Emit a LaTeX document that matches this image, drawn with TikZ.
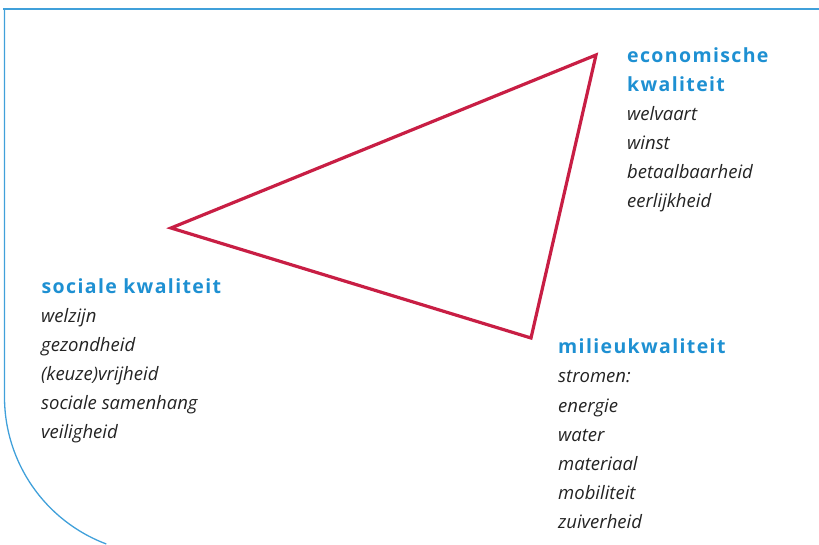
\documentclass[tikz,border=0pt]{standalone}
\usepackage{fontspec}
\setmainfont{Open Sans}
\newfontfamily\headfont[LetterSpace=7]{Open Sans}
\definecolor{frameblue}{RGB}{64,160,218}
\definecolor{headblue}{RGB}{30,144,210}
\definecolor{tri}{RGB}{200,30,68}
\definecolor{itemgray}{RGB}{35,35,35}
\tikzset{
  frame/.style={draw=frameblue, line width=1.3pt},
  head/.style={anchor=base west, inner sep=0pt, text=headblue, font=\headfont\bfseries\fontsize{19.5}{22}\selectfont},
  item/.style={anchor=base west, inner sep=0pt, text=itemgray, font=\itshape\fontsize{18.5}{22}\selectfont},
}
\begin{document}
\begin{tikzpicture}[x=1pt,y=1pt]
\useasboundingbox (0,0) rectangle (819,544);
% frame
\draw[frame] (3,535) -- (819,535);
\draw[frame] (4.5,535.6) -- (4.5,147) arc[start angle=180,end angle=249.4,radius=157pt];
% triangle
\coordinate (L) at (171,316);
\coordinate (T) at (596,489);
\coordinate (B) at (531,206);
\draw[tri, line width=3.2pt, line join=miter] (L) -- (T) -- (B) -- cycle;
% economische kwaliteit
\node[head] (e1) at (627,481.5) {economische};
\node[head] (e2) at (627,452.5) {kwaliteit};
\foreach \t [count=\i] in {welvaart,winst,betaalbaarheid,eerlijkheid}
  \node[item] (ei\i) at (627,452.5-29*\i) {\t};
% sociale kwaliteit
\node[head] (s1) at (41.5,250.5) {sociale kwaliteit};
\foreach \t [count=\i] in {welzijn,gezondheid,(keuze)vrijheid,sociale samenhang,veiligheid}
  \node[item] (si\i) at (41,250.5-29*\i) {\t};
% milieukwaliteit
\node[head] (m1) at (558,190) {milieukwaliteit};
\foreach \t [count=\i] in {stromen:,energie,water,materiaal,mobiliteit,zuiverheid}
  \node[item] (mi\i) at (558,190-29*\i) {\t};
\end{tikzpicture}
\end{document}
